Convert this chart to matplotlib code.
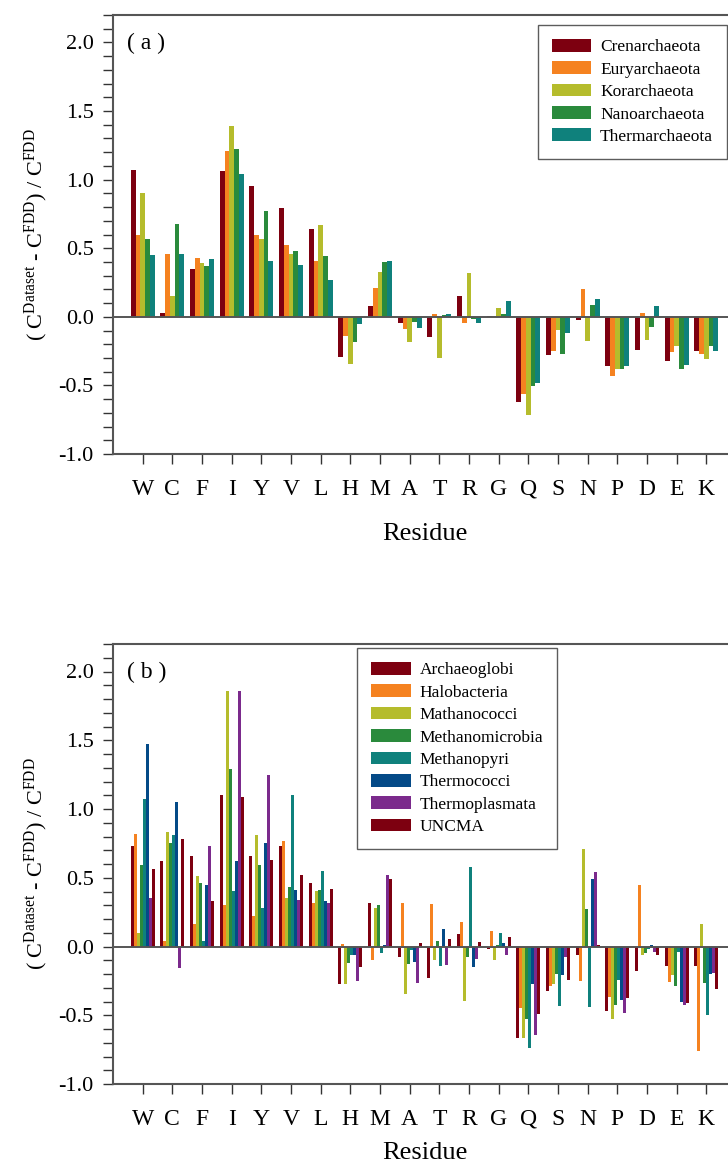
import numpy as np
import matplotlib
matplotlib.use("Agg")
import matplotlib.pyplot as plt
from matplotlib.ticker import MultipleLocator

plt.rcParams['font.family'] = ['Liberation Serif', 'DejaVu Serif']
plt.rcParams['mathtext.fontset'] = 'custom'
plt.rcParams['mathtext.rm'] = 'Liberation Serif'
plt.rcParams['mathtext.it'] = 'Liberation Serif:italic'
plt.rcParams['axes.unicode_minus'] = False

residues = ['W', 'C', 'F', 'I', 'Y', 'V', 'L', 'H', 'M', 'A',
            'T', 'R', 'G', 'Q', 'S', 'N', 'P', 'D', 'E', 'K']

# Panel (a)
phyla = ['Crenarchaeota', 'Euryarchaeota', 'Korarchaeota', 'Nanoarchaeota', 'Thermarchaeota']
crenarchaeota = [1.07, 0.03, 0.35, 1.06, 0.95, 0.79, 0.64, -0.29, 0.08, -0.045,
                 -0.15, 0.15, 0.007, -0.62, -0.28, -0.024, -0.36, -0.24, -0.32, -0.25]
euryarchaeota = [0.60, 0.46, 0.43, 1.21, 0.60, 0.52, 0.405, -0.14, 0.21, -0.09,
                 0.024, -0.046, 0.005, -0.56, -0.25, 0.20, -0.43, 0.027, -0.26, -0.27]
korarchaeota = [0.90, 0.15, 0.39, 1.39, 0.57, 0.46, 0.67, -0.345, 0.33, -0.18,
                -0.30, 0.32, 0.063, -0.715, -0.097, -0.177, -0.38, -0.17, -0.21, -0.31]
nanoarchaeota = [0.57, 0.68, 0.37, 1.22, 0.77, 0.48, 0.44, -0.18, 0.40, -0.037,
                 0.012, -0.015, 0.019, -0.505, -0.27, 0.085, -0.38, -0.075, -0.38, -0.21]
thermarchaeota = [0.45, 0.46, 0.42, 1.04, 0.405, 0.38, 0.27, -0.053, 0.405, -0.083,
                  0.024, -0.044, 0.114, -0.48, -0.12, 0.13, -0.36, 0.078, -0.35, -0.25]
series_a = [crenarchaeota, euryarchaeota, korarchaeota, nanoarchaeota, thermarchaeota]
colors_a = ['#7d0010', '#f58220', '#b5bc2c', '#2a8a3c', '#0f817c']

# Panel (b)
classes = ['Archaeoglobi', 'Halobacteria', 'Mathanococci', 'Methanomicrobia',
           'Methanopyri', 'Thermococci', 'Thermoplasmata', 'UNCMA']
archaeoglobi = [0.73, 0.62, 0.66, 1.10, 0.66, 0.73, 0.46, -0.27, 0.32, -0.075,
                -0.23, 0.09, -0.017, -0.665, -0.32, -0.06, -0.47, -0.18, -0.14, -0.14]
halobacteria = [0.82, 0.04, 0.165, 0.30, 0.22, 0.77, 0.32, 0.02, -0.10, 0.32,
                0.31, 0.18, 0.114, -0.45, -0.29, -0.25, -0.37, 0.45, -0.26, -0.76]
mathanococci = [0.10, 0.83, 0.515, 1.86, 0.81, 0.355, 0.405, -0.27, 0.28, -0.345,
                -0.10, -0.395, -0.10, -0.665, -0.27, 0.71, -0.53, -0.06, -0.21, 0.165]
methanomicrobia = [0.59, 0.755, 0.46, 1.29, 0.59, 0.43, 0.41, -0.12, 0.30, -0.125,
                   0.04, -0.075, 0.012, -0.53, -0.20, 0.27, -0.425, -0.045, -0.29, -0.265]
methanopyri = [1.07, 0.81, 0.04, 0.405, 0.28, 1.10, 0.55, -0.06, -0.046, -0.024,
               -0.14, 0.58, 0.10, -0.74, -0.43, -0.44, -0.245, -0.017, -0.04, -0.50]
thermococci = [1.47, 1.05, 0.45, 0.62, 0.75, 0.41, 0.33, -0.06, 0.01, -0.11,
               0.13, -0.15, 0.027, -0.27, -0.21, 0.49, -0.39, 0.012, -0.40, -0.20]
thermoplasmata = [0.355, -0.155, 0.73, 1.855, 1.25, 0.34, 0.32, -0.25, 0.52, -0.265,
                  -0.135, -0.09, -0.06, -0.645, -0.075, 0.545, -0.485, -0.04, -0.425, -0.19]
uncma = [0.565, 0.785, 0.33, 1.09, 0.63, 0.52, 0.42, -0.15, 0.49, 0.027,
         0.056, 0.034, 0.07, -0.49, -0.245, 0.012, -0.375, -0.06, -0.41, -0.31]
series_b = [archaeoglobi, halobacteria, mathanococci, methanomicrobia,
            methanopyri, thermococci, thermoplasmata, uncma]
colors_b = ['#7d0010', '#f58220', '#b5bc2c', '#2a8a3c', '#0f817c',
            '#044a87', '#7b2a8c', '#7d0010']

W, H = 728, 1174
fig = plt.figure(figsize=(W / 100, H / 100), dpi=100)

left = 113 / W
width = 623 / W
ax_a = fig.add_axes([left, 1 - 454 / H, width, 439 / H])
ax_b = fig.add_axes([left, 1 - 1084 / H, width, 440 / H])

ylabel = r'( C$^{\mathrm{Dataset}}$ - C$^{\mathrm{FDD}}$) / C$^{\mathrm{FDD}}$'
x = np.arange(len(residues))

def draw(ax, series, names, colors, bw, tag, legend_kw, xlabel_y):
    n = len(series)
    for i, (vals, name, col) in enumerate(zip(series, names, colors)):
        ax.bar(x + (i - (n - 1) / 2) * bw, vals, width=bw, color=col,
               label=name, linewidth=0, zorder=2)
    ax.axhline(0, color='#555555', linewidth=1.4, zorder=3)
    ax.set_xlim(-1, 20)
    ax.set_ylim(-1.0, 2.2)
    ax.set_xticks(x)
    ax.set_xticklabels(residues, fontsize=17)
    ax.set_yticks([-1.0, -0.5, 0.0, 0.5, 1.0, 1.5, 2.0])
    ax.set_yticklabels(['-1.0', '-0.5', '0.0', '0.5', '1.0', '1.5', '2.0'], fontsize=16)
    ax.yaxis.set_minor_locator(MultipleLocator(0.1))
    ax.tick_params(axis='y', which='both', direction='out', length=7, width=1,
                   color='#333333', pad=7)
    ax.tick_params(axis='x', which='major', direction='out', length=7, width=1,
                   color='#333333', pad=11)
    for s in ax.spines.values():
        s.set_color('#555555')
        s.set_linewidth(1.5)
    ax.set_xlabel('Residue', fontsize=19)
    ax.xaxis.set_label_coords(0.5, xlabel_y)
    ax.set_ylabel(ylabel, fontsize=16)
    ax.yaxis.set_label_coords(-0.101, 0.5)
    ax.text(0.022, 0.935, tag, transform=ax.transAxes, fontsize=17,
            ha='left', va='center')
    leg = ax.legend(fontsize=12.5, frameon=True, fancybox=False,
                    edgecolor='#333333', handlelength=2.3, handleheight=0.75,
                    handletextpad=0.5, labelspacing=0.345, borderpad=0.8,
                    borderaxespad=0, **legend_kw)
    leg.get_frame().set_linewidth(1.0)
    leg.set_zorder(5)

draw(ax_a, series_a, phyla, colors_a, 0.16, '( a )',
     dict(loc='upper right', bbox_to_anchor=((727 - 113) / 623, (454 - 25) / 439)),
     -0.157)
draw(ax_b, series_b, classes, colors_b, 0.1, '( b )',
     dict(loc='upper left', bbox_to_anchor=((357 - 113) / 623, (1084 - 648) / 440)),
     -0.132)

fig.savefig('out.png', dpi=100)
